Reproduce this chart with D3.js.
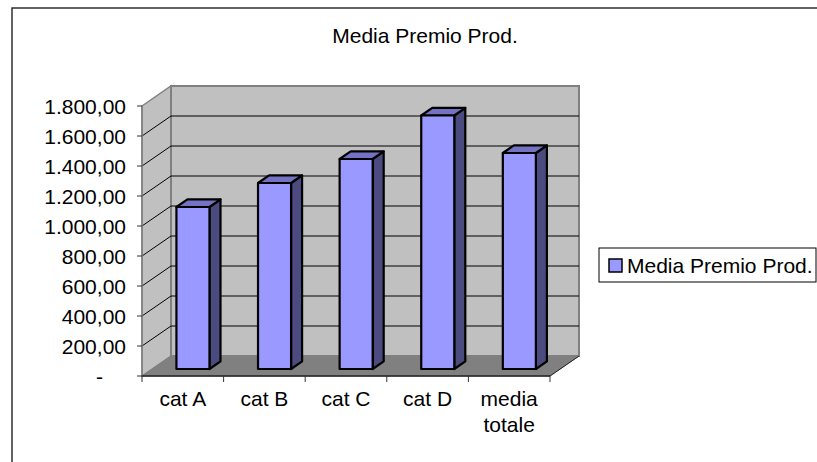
<!DOCTYPE html>
<html lang="it">
<head>
<meta charset="utf-8">
<title>Media Premio Prod.</title>
<script src="https://cdn.jsdelivr.net/npm/d3@7/dist/d3.min.js"></script>
<style>
body { margin: 0; background: #fff; }
text { font-family: "Liberation Sans", Arial, sans-serif; fill: #000; }
</style>
</head>
<body>
<script>

var categories = ["cat A", "cat B", "cat C", "cat D", "media totale"];
var values = [1080, 1240, 1400, 1690, 1440];
var yTicks = [0, 200, 400, 600, 800, 1000, 1200, 1400, 1600, 1800];
var title = "Media Premio Prod.";
var seriesName = "Media Premio Prod.";

var W = 817, H = 462;
var fs = 21;

var svg = d3.select("body").append("svg")
	.attr("width", W)
	.attr("height", H);

// chart area frame
svg.append("rect")
	.attr("x", 12).attr("y", 8)
	.attr("width", 840).attr("height", 480)
	.style("fill", "none")
	.style("stroke", "#222")
	.style("stroke-width", 1.4);

var x = d3.scaleBand().domain(categories).range([142, 550]);
var y = d3.scaleLinear().domain([0, 1800]).range([376, 106]);

// depth of the 3d floor
var DX = 29, DY = -20;
var x0 = x.range()[0], x1 = x.range()[1];
var yb = y(0), yt = y(1800);

function pts(a){ return a.map(function(p){ return p.join(","); }).join(" "); }

// left wall
svg.append("polygon")
	.attr("points", pts([[x0, yt], [x0 + DX, yt + DY], [x0 + DX, yb + DY], [x0, yb]]))
	.style("fill", "#c0c0c0")
	.style("stroke", "#808080")
	.style("stroke-width", 1.5);

// back wall
svg.append("polygon")
	.attr("points", pts([[x0 + DX, yt + DY], [x1 + DX, yt + DY], [x1 + DX, yb + DY], [x0 + DX, yb + DY]]))
	.style("fill", "#c0c0c0")
	.style("stroke", "#808080")
	.style("stroke-width", 2);

// floor
svg.append("polygon")
	.attr("points", pts([[x0, yb], [x0 + DX, yb + DY], [x1 + DX, yb + DY], [x1, yb]]))
	.style("fill", "#808080")
	.style("stroke", "#808080")
	.style("stroke-width", 1);

// gridlines
var grid = yTicks.filter(function(d){ return d > 0 && d < 1800; });
svg.selectAll(".gback").data(grid).enter().append("line")
	.attr("x1", x0 + DX).attr("x2", x1 + DX)
	.attr("y1", function(d){ return y(d) + DY; })
	.attr("y2", function(d){ return y(d) + DY; })
	.style("stroke", "#000").style("stroke-width", 1);
svg.selectAll(".gleft").data(grid).enter().append("line")
	.attr("x1", x0).attr("x2", x0 + DX)
	.attr("y1", function(d){ return y(d); })
	.attr("y2", function(d){ return y(d) + DY; })
	.style("stroke", "#000").style("stroke-width", 1);

// value axis
svg.append("line")
	.attr("x1", x0).attr("x2", x0).attr("y1", yt).attr("y2", yb)
	.style("stroke", "#808080").style("stroke-width", 1.5);
svg.selectAll(".ytick").data(yTicks).enter().append("line")
	.attr("x1", x0 - 5).attr("x2", x0)
	.attr("y1", function(d){ return y(d); })
	.attr("y2", function(d){ return y(d); })
	.style("stroke", "#333").style("stroke-width", 1);

function fmt(v){
	if(v === 0) return "-";
	return d3.format(",.2f")(v).replace(/,/g, "#").replace(/\./g, ",").replace(/#/g, ".");
}
svg.selectAll(".ylab").data(yTicks).enter().append("text")
	.attr("x", function(d){ return d === 0 ? 103 : 126; })
	.attr("y", function(d){ return y(d) + 0.36 * fs; })
	.attr("text-anchor", "end")
	.style("font-size", fs + "px")
	.text(fmt);

// category axis
svg.append("line")
	.attr("x1", x0).attr("x2", x1).attr("y1", yb).attr("y2", yb)
	.style("stroke", "#222").style("stroke-width", 1.5);
svg.append("line")
	.attr("x1", x1).attr("x2", x1 + DX).attr("y1", yb).attr("y2", yb + DY)
	.style("stroke", "#222").style("stroke-width", 1);
var edges = categories.map(function(c){ return x(c); }).concat([x1]);
svg.selectAll(".xtick").data(edges).enter().append("line")
	.attr("x1", function(d){ return d; }).attr("x2", function(d){ return d; })
	.attr("y1", yb).attr("y2", yb + 6)
	.style("stroke", "#333").style("stroke-width", 1);

svg.selectAll(".xlab").data(categories).enter().append("text")
	.attr("x", function(d){ return x(d) + x.bandwidth() / 2; })
	.attr("y", 406)
	.attr("text-anchor", "middle")
	.style("font-size", fs + "px")
	.each(function(d){
		var words = d.split(" ");
		var t = d3.select(this);
		if(d === "media totale"){
			words.forEach(function(w, i){
				t.append("tspan")
					.attr("x", x(d) + x.bandwidth() / 2)
					.attr("dy", i === 0 ? 0 : 26)
					.text(w);
			});
		} else {
			t.text(d);
		}
	});

// bars
var fFront = 0.35, fDepth = 0.38;
var bw = x.bandwidth() * 0.405;
var bars = categories.map(function(c, i){ return {cat: c, v: values[i]}; });

var g = svg.selectAll(".bar").data(bars).enter().append("g");
g.each(function(d){
	var sel = d3.select(this);
	var ox = fFront * DX, oy = fFront * DY;
	var l = x(d.cat) + (x.bandwidth() - bw) / 2 + ox;
	var r = l + bw;
	var top = y(d.v) + oy, bot = yb + oy;
	var ddx = fDepth * DX, ddy = fDepth * DY;
	// side
	sel.append("polygon")
		.attr("points", pts([[r, top], [r + ddx, top + ddy], [r + ddx, bot + ddy], [r, bot]]))
		.style("fill", "#4b4b80");
	// top
	sel.append("polygon")
		.attr("points", pts([[l, top], [l + ddx, top + ddy], [r + ddx, top + ddy], [r, top]]))
		.style("fill", "#7373c2");
	// front
	sel.append("rect")
		.attr("x", l).attr("y", top)
		.attr("width", bw).attr("height", bot - top)
		.style("fill", "#9999ff");
	sel.selectAll("polygon, rect")
		.style("stroke", "#000")
		.style("stroke-width", 2.2)
		.style("stroke-linejoin", "round");
});

// title
svg.append("text")
	.attr("x", 425).attr("y", 43)
	.attr("text-anchor", "middle")
	.style("font-size", fs + "px")
	.text(title);

// legend
var lg = svg.append("g");
lg.append("rect")
	.attr("x", 599).attr("y", 248)
	.attr("width", 217).attr("height", 34)
	.style("fill", "#fff")
	.style("stroke", "#000")
	.style("stroke-width", 1);
lg.append("rect")
	.attr("x", 609).attr("y", 259)
	.attr("width", 13).attr("height", 13)
	.style("fill", "#9999ff")
	.style("stroke", "#000")
	.style("stroke-width", 1.5);
lg.append("text")
	.attr("x", 627).attr("y", 273)
	.style("font-size", fs + "px")
	.text(seriesName);

</script>
</body>
</html>
